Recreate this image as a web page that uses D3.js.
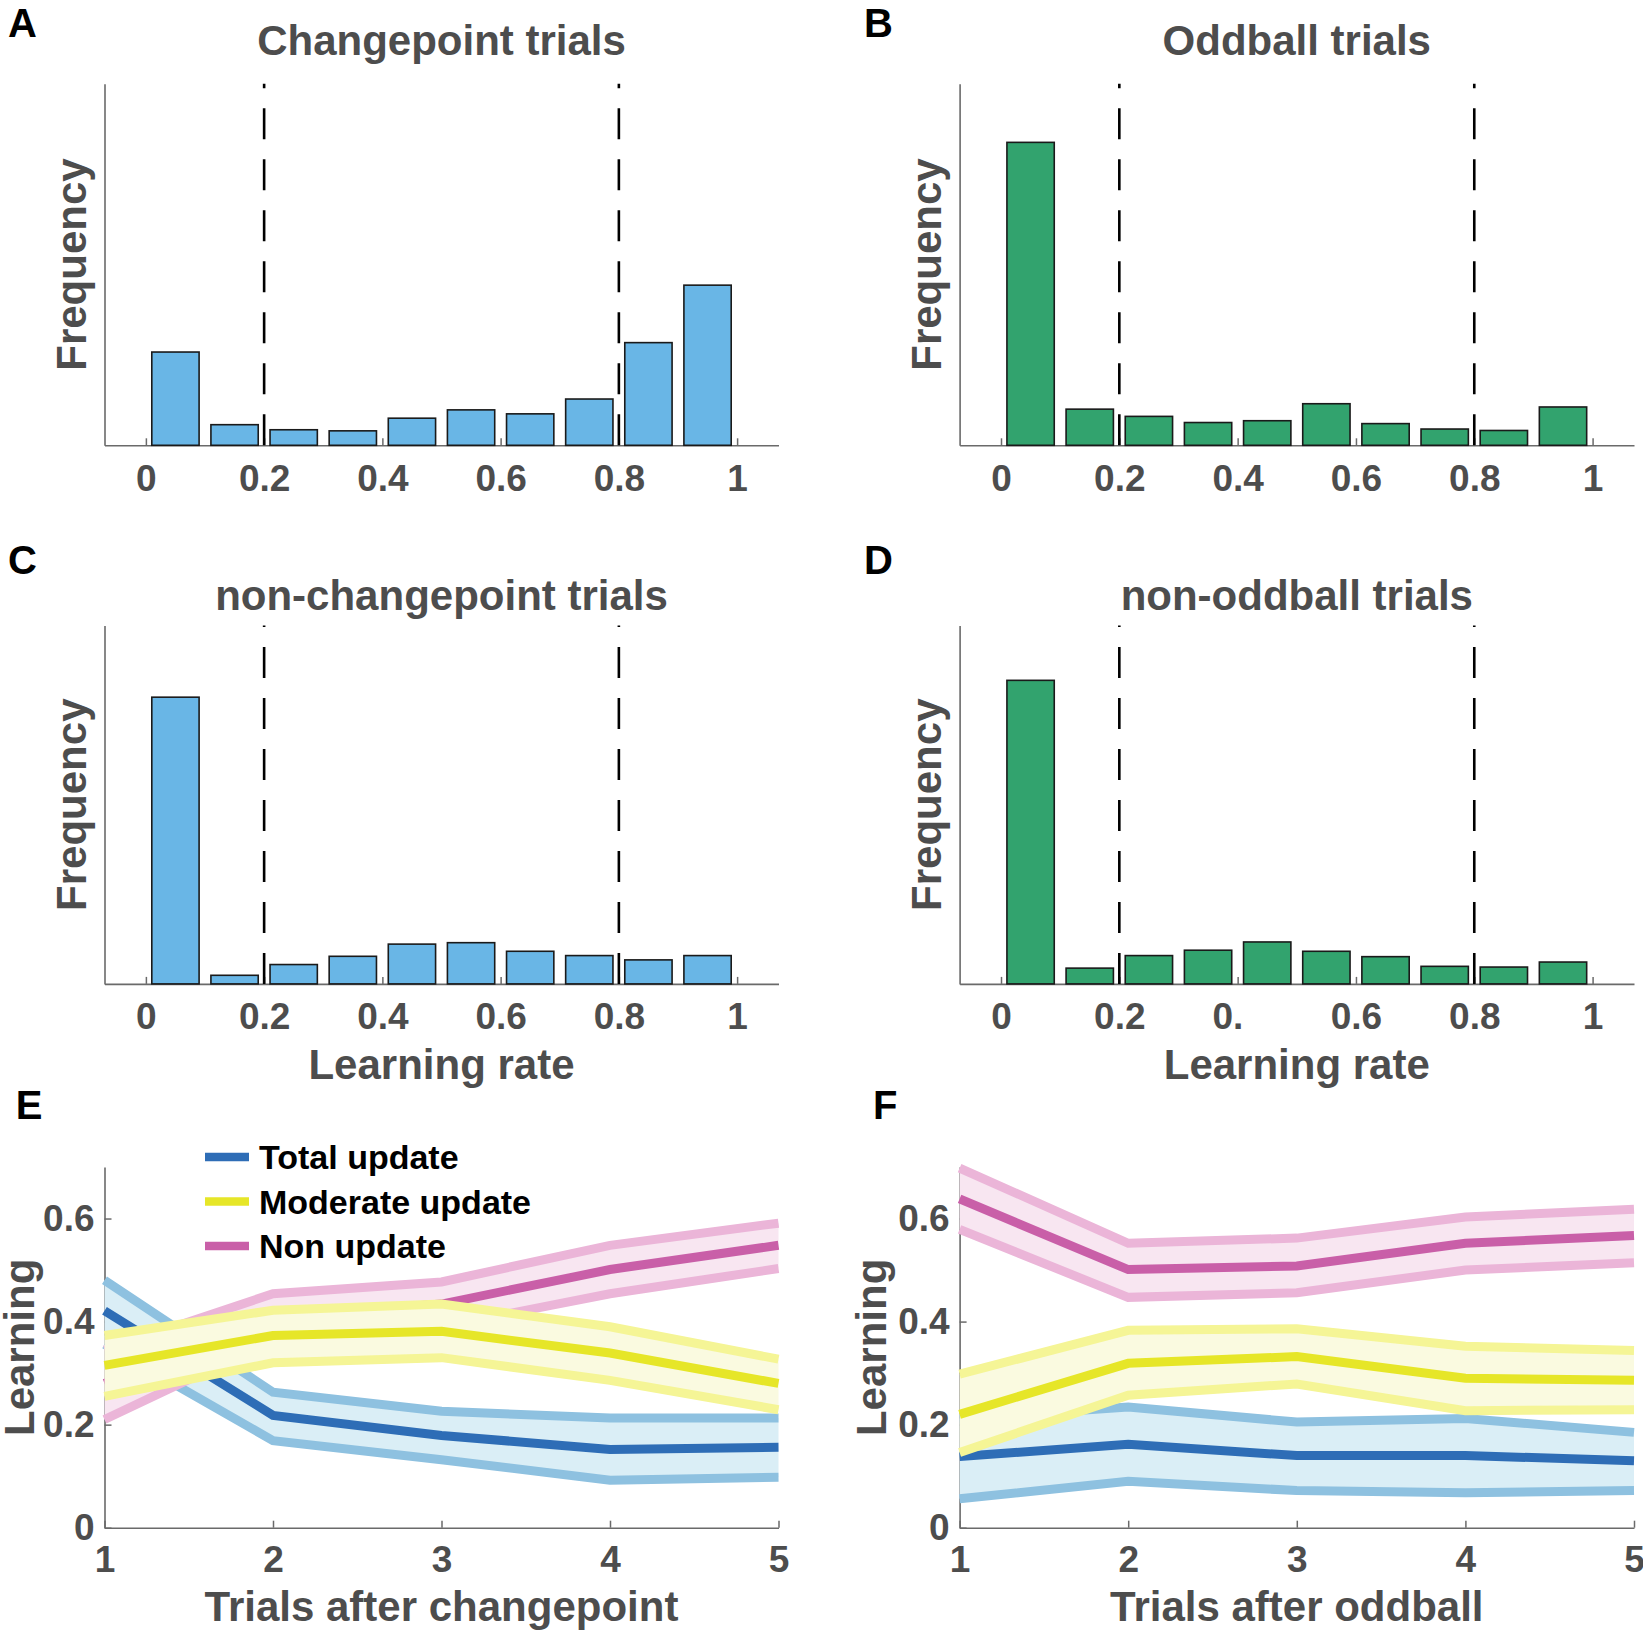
<!DOCTYPE html>
<html><head><meta charset="utf-8">
<script src="https://cdn.jsdelivr.net/npm/d3@7"></script>
<style>
body{margin:0;background:#fff}
svg{display:block}
text{font-family:"Liberation Sans",Arial,Helvetica,sans-serif;font-weight:bold}
</style>
</head><body>
<svg id="fig" width="1643" height="1632"></svg>
<script>
// ---------------- DATA ----------------
const binCenters = [0.05, 0.15, 0.25, 0.35, 0.45, 0.55, 0.65, 0.75, 0.85, 0.95];
const binWidth = 0.08;
const thresholds = [0.2, 0.8];
const histTickValues = [0, 0.2, 0.4, 0.6, 0.8, 1];
const histTickLabels = ["0", "0.2", "0.4", "0.6", "0.8", "1"];
const histTickLabelsD = ["0", "0.2", "0.", "0.6", "0.8", "1"];

// relative frequency (fraction of the axis height)
const freqChangepoint    = [0.258, 0.057, 0.043, 0.040, 0.075, 0.098, 0.087, 0.128, 0.284, 0.443];
const freqOddball        = [0.838, 0.100, 0.080, 0.063, 0.068, 0.115, 0.060, 0.045, 0.041, 0.106];
const freqNonChangepoint = [0.800, 0.024, 0.054, 0.077, 0.111, 0.115, 0.091, 0.079, 0.067, 0.079];
const freqNonOddball     = [0.847, 0.044, 0.079, 0.094, 0.117, 0.091, 0.076, 0.049, 0.047, 0.061];

const trials = [1, 2, 3, 4, 5];
const lineYTicks = [0, 0.2, 0.4, 0.6];
const lineYTickLabels = ["0", "0.2", "0.4", "0.6"];

// after changepoint
const cpTotalMean     = [0.421, 0.218, 0.179, 0.152, 0.156];
const cpTotalUpper    = [0.480, 0.263, 0.226, 0.213, 0.213];
const cpTotalLower    = [0.356, 0.169, 0.132, 0.092, 0.098];
const cpModerateMean  = [0.315, 0.373, 0.381, 0.339, 0.280];
const cpModerateUpper = [0.373, 0.422, 0.434, 0.390, 0.327];
const cpModerateLower = [0.255, 0.320, 0.330, 0.286, 0.229];
const cpNonMean       = [0.280, 0.410, 0.434, 0.501, 0.548];
const cpNonUpper      = [0.345, 0.454, 0.477, 0.548, 0.591];
const cpNonLower      = [0.210, 0.365, 0.390, 0.454, 0.503];

// after oddball
const obTotalMean     = [0.138, 0.162, 0.140, 0.140, 0.130];
const obTotalUpper    = [0.212, 0.234, 0.205, 0.212, 0.185];
const obTotalLower    = [0.056, 0.090, 0.072, 0.068, 0.072];
const obModerateMean  = [0.220, 0.319, 0.332, 0.290, 0.286];
const obModerateUpper = [0.298, 0.383, 0.386, 0.352, 0.344];
const obModerateLower = [0.146, 0.257, 0.279, 0.227, 0.229];
const obNonMean       = [0.638, 0.501, 0.508, 0.552, 0.567];
const obNonUpper      = [0.698, 0.552, 0.562, 0.603, 0.618];
const obNonLower      = [0.579, 0.447, 0.456, 0.500, 0.514];

const legendLabels = ["Total update", "Moderate update", "Non update"];

// ---------------- STYLE ----------------
const TXT = "#4d4d4d";
const AXIS = "#6a6a6a";
const blueBar = "#69b6e6", greenBar = "#32a36e";
const seriesStyle = {
  total:    {main: "#2e6db6", edge: "#8ec1e0", fill: "#daeef6"},
  moderate: {main: "#e6e628", edge: "#f5f596", fill: "#fafae0"},
  non:      {main: "#c95fa8", edge: "#ebb5d8", fill: "#f8e6f1"}
};

const svg = d3.select("#fig");
svg.append("rect").attr("width", 1643).attr("height", 1632).attr("fill", "#fff");

const colL = {x0: 104.5, x1: 778.5}, colR = {x0: 959.6, x1: 1634};
const rowA = {y0: 83.8, y1: 445.3}, rowC = {y0: 625.5, y1: 983.9}, rowE = {y0: 1167, y1: 1527.7};

function styleAxis(a, fs) {
  a.select("path.domain").attr("stroke", AXIS).attr("stroke-width", 1.6);
  a.selectAll(".tick line").attr("stroke", AXIS).attr("stroke-width", 1.5);
  a.selectAll(".tick text").attr("fill", TXT).attr("font-size", fs)
    .attr("font-family", '"Liberation Sans",Arial,Helvetica,sans-serif').attr("font-weight", "bold");
}

function label(x, y, str, fs, opts = {}) {
  const t = svg.append("text").attr("x", x).attr("y", y).text(str)
    .attr("font-size", fs).attr("fill", opts.fill || TXT)
    .attr("text-anchor", opts.anchor || "middle");
  if (opts.rotate) t.attr("transform", `rotate(-90,${x},${y})`);
  return t;
}

function histPanel(o) {
  const x = d3.scaleLinear().domain([-0.07, 1.07]).range([o.col.x0, o.col.x1]);
  const y = d3.scaleLinear().domain([0, 1]).range([o.row.y1, o.row.y0]);
  const g = svg.append("g");
  const xa = g.append("g").attr("transform", `translate(0,${o.row.y1})`)
    .call(d3.axisBottom(x).tickValues(histTickValues).tickFormat((d, i) => o.tickLabels[i])
      .tickSizeInner(-7).tickSizeOuter(0).tickPadding(19));
  styleAxis(xa, 37);
  // labels missing their last digit keep the left edge of the full label
  xa.selectAll(".tick text").each(function(d, i) {
    if (o.tickLabels[i] !== histTickLabels[i]) {
      const tmp = xa.append("text").attr("font-size", 37).text(histTickLabels[i]);
      const w = tmp.node().getComputedTextLength();
      tmp.remove();
      d3.select(this).attr("text-anchor", "start").attr("x", -w / 2);
    }
  });
  const ya = g.append("g").attr("transform", `translate(${o.col.x0},0)`)
    .call(d3.axisLeft(y).tickValues([]).tickSizeOuter(0));
  styleAxis(ya, 37);

  g.selectAll("rect.bar").data(o.values).join("rect").attr("class", "bar")
    .attr("x", (d, i) => x(binCenters[i] - binWidth / 2))
    .attr("width", (d, i) => x(binCenters[i] + binWidth / 2) - x(binCenters[i] - binWidth / 2))
    .attr("y", d => y(d)).attr("height", d => y(0) - y(d))
    .attr("fill", o.color).attr("stroke", "#1a1a1a").attr("stroke-width", 1.6);

  g.selectAll("line.thr").data(thresholds).join("line").attr("class", "thr")
    .attr("x1", d => x(d)).attr("x2", d => x(d))
    .attr("y1", y(0)).attr("y2", y(1))
    .attr("stroke", "#000").attr("stroke-width", 2.6).attr("stroke-dasharray", "31,20");

  const cx = (o.col.x0 + o.col.x1) / 2;
  label(cx, o.titleY, o.title, 42);
  label(o.freqX, (o.row.y0 + o.row.y1) / 2, "Frequency", 42, {rotate: true});
  if (o.xlabel) label(cx, o.row.y1 + 95, o.xlabel, 42);
  label(o.letterX, o.letterY, o.letter, 40, {fill: "#000", anchor: "start"});
}

function linePanel(o) {
  const x = d3.scaleLinear().domain([1, 5]).range([o.col.x0, o.col.x1]);
  const y = d3.scaleLinear().domain([0, 0.7]).range([o.row.y1, o.row.y0]);
  const g = svg.append("g");
  const xa = g.append("g").attr("transform", `translate(0,${o.row.y1})`)
    .call(d3.axisBottom(x).tickValues(trials).tickFormat(d3.format("d"))
      .tickSizeInner(-7).tickSizeOuter(0).tickPadding(18));
  styleAxis(xa, 37);
  const ya = g.append("g").attr("transform", `translate(${o.col.x0},0)`)
    .call(d3.axisLeft(y).tickValues(lineYTicks).tickFormat((d, i) => lineYTickLabels[i])
      .tickSizeInner(-7).tickSizeOuter(0).tickPadding(10));
  styleAxis(ya, 37);

  const area = d3.area().x((d, i) => x(trials[i])).y0(d => y(d[0])).y1(d => y(d[1]));
  const line = d3.line().x((d, i) => x(trials[i])).y(d => y(d));

  o.series.forEach(s => {
    const st = seriesStyle[s.key];
    const band = s.lower.map((v, i) => [v, s.upper[i]]);
    g.append("path").datum(band).attr("d", area).attr("fill", st.fill);
    [s.lower, s.upper].forEach(arr => {
      g.append("path").datum(arr).attr("d", line).attr("fill", "none")
        .attr("stroke", st.edge).attr("stroke-width", 9).attr("stroke-linejoin", "miter");
    });
    g.append("path").datum(s.mean).attr("d", line).attr("fill", "none")
      .attr("stroke", st.main).attr("stroke-width", 9).attr("stroke-linejoin", "miter");
  });

  const cx = (o.col.x0 + o.col.x1) / 2;
  label(cx, o.row.y1 + 93, o.xlabel, 42);
  label(o.ylabX, (o.row.y0 + o.row.y1) / 2, "Learning", 42, {rotate: true});
  label(o.letterX, o.letterY, o.letter, 40, {fill: "#000", anchor: "start"});

  if (o.legend) {
    const keys = ["total", "moderate", "non"];
    const lg = svg.append("g");
    keys.forEach((k, i) => {
      const yy = 1157 + i * 44.5;
      lg.append("line").attr("x1", 205).attr("x2", 249).attr("y1", yy).attr("y2", yy)
        .attr("stroke", seriesStyle[k].main).attr("stroke-width", 8.5);
      lg.append("text").attr("x", 259).attr("y", yy + 12).text(legendLabels[i])
        .attr("font-size", 34).attr("fill", "#000");
    });
  }
}

histPanel({col: colL, row: rowA, values: freqChangepoint, color: blueBar, title: "Changepoint trials",
  titleY: 54.5, freqX: 86, letter: "A", letterX: 8, letterY: 36.5, tickLabels: histTickLabels});
histPanel({col: colR, row: rowA, values: freqOddball, color: greenBar, title: "Oddball trials",
  titleY: 54.5, freqX: 941, letter: "B", letterX: 864, letterY: 36.5, tickLabels: histTickLabels});
histPanel({col: colL, row: rowC, values: freqNonChangepoint, color: blueBar, title: "non-changepoint trials",
  titleY: 610, freqX: 86, letter: "C", letterX: 8, letterY: 574, tickLabels: histTickLabels, xlabel: "Learning rate"});
histPanel({col: colR, row: rowC, values: freqNonOddball, color: greenBar, title: "non-oddball trials",
  titleY: 610, freqX: 941, letter: "D", letterX: 864, letterY: 574, tickLabels: histTickLabelsD, xlabel: "Learning rate"});

linePanel({col: colL, row: rowE, xlabel: "Trials after changepoint", ylabX: 34, letter: "E", letterX: 15.7, letterY: 1119, legend: true,
  series: [
    {key: "total", mean: cpTotalMean, upper: cpTotalUpper, lower: cpTotalLower},
    {key: "non", mean: cpNonMean, upper: cpNonUpper, lower: cpNonLower},
    {key: "moderate", mean: cpModerateMean, upper: cpModerateUpper, lower: cpModerateLower}
  ]});
linePanel({col: colR, row: rowE, xlabel: "Trials after oddball", ylabX: 886, letter: "F", letterX: 873, letterY: 1119, legend: false,
  series: [
    {key: "total", mean: obTotalMean, upper: obTotalUpper, lower: obTotalLower},
    {key: "non", mean: obNonMean, upper: obNonUpper, lower: obNonLower},
    {key: "moderate", mean: obModerateMean, upper: obModerateUpper, lower: obModerateLower}
  ]});
</script>
</body></html>
